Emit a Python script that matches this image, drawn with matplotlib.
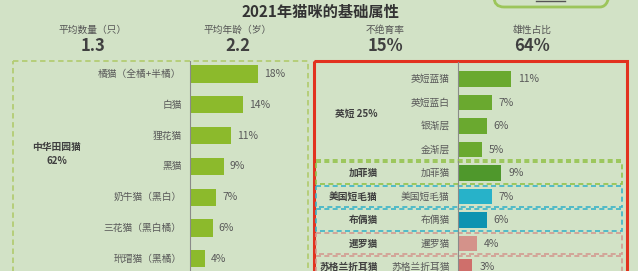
import numpy as np
import matplotlib
matplotlib.use("Agg")
import matplotlib.pyplot as plt
from matplotlib.patches import Rectangle, FancyBboxPatch

plt.rcParams['font.family'] = ['Noto Sans CJK SC', 'DejaVu Sans']

# data
stat_labels = ["平均数量（只）", "平均年龄（岁）", "不绝育率", "雄性占比"]
stat_values = ["1.3", "2.2", "15%", "64%"]

left_cats = ["橘猫（全橘+半橘）", "白猫", "狸花猫", "黑猫", "奶牛猫（黑白）", "三花猫（黑白橘）", "玳瑁猫（黑橘）"]
left_vals = [18, 14, 11, 9, 7, 6, 4]

right_cats = ["英短蓝猫", "英短蓝白", "银渐层", "金渐层", "加菲猫", "美国短毛猫", "布偶猫", "暹罗猫", "苏格兰折耳猫"]
right_vals = [11, 7, 6, 5, 9, 7, 6, 4, 3]
right_colors = ["#6aa92f", "#6aa92f", "#6aa92f", "#6aa92f", "#4f982c",
                "#27b2c9", "#0e93b1", "#d4928a", "#cf6f6b"]

# groups on the right: (label, first index, last index, box colour)
groups = [("英短 25%", 0, 3, "#93c24a"),
          ("加菲猫", 4, 4, "#93c24a"),
          ("美国短毛猫", 5, 5, "#3bb4c8"),
          ("布偶猫", 6, 6, "#3bb4c8"),
          ("暹罗猫", 7, 7, "#d29b90"),
          ("苏格兰折耳猫", 8, 8, "#d29b90")]

bg = "#d2e2c6"
W, H = 638, 271
fig = plt.figure(figsize=(W / 100, H / 100), dpi=100, facecolor=bg)

# background overlay in pixel coordinates
ax0 = fig.add_axes([0, 0, 1, 1], zorder=0)
ax0.set_xlim(0, W)
ax0.set_ylim(H, 0)
ax0.axis("off")

ax0.text(320, 12, "2021年猫咪的基础属性", ha="center", va="center",
         fontsize=11, fontweight="bold", color="#333333")

stat_x = [93, 238, 385, 532]
for x, lab, val in zip(stat_x, stat_labels, stat_values):
    ax0.text(x, 30, lab, ha="center", va="center", fontsize=7, color="#555555")
    ax0.text(x, 46, val, ha="center", va="center", fontsize=12,
             fontweight="bold", color="#404040")

# partial rounded box at top right
ax0.add_patch(FancyBboxPatch((494, -25), 116, 32,
                             boxstyle="round,pad=0,rounding_size=10",
                             fill=False, ec="#9cc55a", lw=2))
ax0.plot([536, 565], [1, 1], color="#555555", lw=1)

# left dashed box and right red box
ax0.add_patch(Rectangle((13, 61), 295, 230, fill=False, ec="#b3cc74",
                        lw=1.3, ls=(0, (3, 2))))
ax0.add_patch(Rectangle((313.5, 60.5), 313, 230, fill=False, ec="#e2321f", lw=2.2))

# left bar chart
px_left = 3.75
l_x0, l_x1 = 13, 308
l_axis = 190
l_y0, l_step = 74, 30.8
axl = fig.add_axes([l_x0 / W, 0, (l_x1 - l_x0) / W, (H - 61) / H], zorder=1)
axl.patch.set_alpha(0)
axl.set_xlim(-(l_axis - l_x0) / px_left, (l_x1 - l_axis) / px_left)
axl.set_ylim((H - l_y0) / l_step, (61 - l_y0) / l_step)
axl.axis("off")
yl = np.arange(len(left_cats))
axl.barh(yl, left_vals, height=0.56, color="#8cba2c")
axl.axvline(0, color="#8a8a8a", lw=0.8)
for y, c, v in zip(yl, left_cats, left_vals):
    axl.text(-2.2, y, c, ha="right", va="center", fontsize=7, color="#595959")
    axl.annotate(f"{v}%", (v, y), xytext=(4.5, 0), textcoords="offset points",
                 ha="left", va="center", fontsize=7.5, color="#595959")
axl.text(-35.5, 2.6, "中华田园猫\n62%", ha="center", va="center",
         fontsize=7, fontweight="bold", color="#404040", linespacing=1.4)

# right bar chart
px_right = 4.8
r_x0, r_x1 = 316, 622
r_axis = 458
r_y0, r_step = 79, 23.5
axr = fig.add_axes([r_x0 / W, 0, (r_x1 - r_x0) / W, (H - 62) / H], zorder=1)
axr.patch.set_alpha(0)
xmin, xmax = -(r_axis - r_x0) / px_right, (r_x1 - r_axis) / px_right
axr.set_xlim(xmin, xmax)
axr.set_ylim((H - r_y0) / r_step, (62 - r_y0) / r_step)
axr.axis("off")
yr = np.arange(len(right_cats))
axr.barh(yr, right_vals, height=0.68, color=right_colors)
axr.axvline(0, color="#8a8a8a", lw=0.8)
for y, c, v in zip(yr, right_cats, right_vals):
    axr.text(-1.7, y, c, ha="right", va="center", fontsize=7, color="#595959")
    axr.annotate(f"{v}%", (v, y), xytext=(5, 0), textcoords="offset points",
                 ha="left", va="center", fontsize=7.5, color="#595959")

gap = 0.04
for lab, i0, i1, col in groups:
    lo, hi = i0 - 0.5 + gap, i1 + 0.5 - gap
    if i0 > 0:
        axr.add_patch(Rectangle((xmin, lo), xmax - xmin, hi - lo, fill=False,
                                ec=col, lw=1.2, ls=(0, (3, 2)), clip_on=False))
    else:
        axr.plot([xmin, xmax], [hi, hi], color=col, lw=1.2, ls=(0, (3, 2)))
    axr.text(-16.7, (i0 + i1) / 2, lab, ha="right", va="center",
             fontsize=7, fontweight="bold", color="#404040")

fig.savefig("out.png", dpi=100, facecolor=bg)
